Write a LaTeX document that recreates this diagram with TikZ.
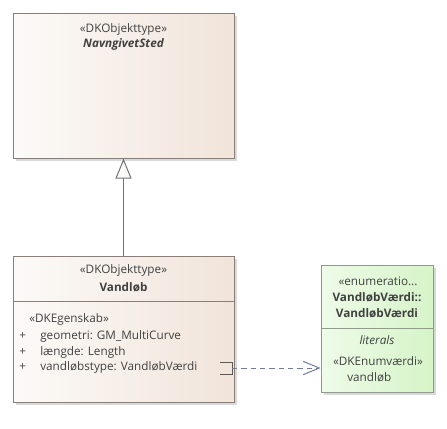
\documentclass[tikz,border=0pt]{standalone}
\usepackage{fontspec}
\setmainfont{Open Sans}
\usepackage{tikz}
\usetikzlibrary{arrows.meta}

\definecolor{boxline}{RGB}{138,126,120}
\definecolor{boxleft}{RGB}{252,250,248}
\definecolor{boxright}{RGB}{241,228,218}
\definecolor{enumline}{RGB}{145,155,140}
\definecolor{enumleft}{RGB}{238,251,232}
\definecolor{enumright}{RGB}{214,244,200}
\definecolor{txtgrey}{RGB}{65,65,65}
\definecolor{deparrow}{RGB}{112,124,156}

\tikzset{
  classbox/.style={draw=boxline, line width=0.75pt, left color=boxleft, right color=boxright, inner sep=0pt},
  enumbox/.style={draw=enumline, line width=0.75pt, left color=enumleft, right color=enumright, inner sep=0pt},
  boxshadow/.style={fill=black!15, draw=none},
  txt/.style={inner sep=0.75pt, font=\fontsize{8.8}{10}\selectfont, text=txtgrey},
}

\begin{document}
\begin{tikzpicture}[x=0.75pt,y=0.75pt,yscale=-1,xscale=1]
\useasboundingbox (0,0) rectangle (447,429);

%Shadows
\fill [boxshadow] (16,16) rectangle (237,161);
\fill [boxshadow] (16,259) rectangle (237,405);
\fill [boxshadow] (324,268) rectangle (436,395);

%Class boxes
\node [classbox, minimum width=165.75pt, minimum height=108.75pt] (navngivet) at (123.5,85.5) {};
\node [classbox, minimum width=165.75pt, minimum height=109.5pt] (vandlob) at (123.5,329) {};
\node [enumbox, minimum width=84pt, minimum height=95.25pt] (vaerdi) at (377,328.5) {};

%Compartment lines
\draw [boxline, line width=0.75pt] (vandlob.west |- 0,301) -- (vandlob.east |- 0,301) ;
\draw [enumline, line width=0.75pt] (vaerdi.west |- 0,328) -- (vaerdi.east |- 0,328) ;

%Generalization
\draw [color=black!55, line width=0.75pt, -{Triangle[open, length=15pt, width=12pt, fill=boxleft]}] (vandlob.north) -- (navngivet.south) ;

%Dependency
\coordinate (dep) at (232,368) ;
\draw [color=black!65, line width=0.75pt] (220,362) -- (dep |- 0,362) -- (dep |- 0,374) -- (220,374) ;
\draw [color=deparrow, line width=0.75pt, dashed, dash pattern=on 4pt off 3pt, -{Straight Barb[length=12pt, width=10pt]}] (dep) -- (vaerdi.west |- dep) ;

% Text Node
\node [txt] (navnstereo) at (123.5,29) {«DKObjekttype»};
% Text Node
\node [txt, font=\fontsize{8.8}{10}\selectfont\bfseries\itshape] (navnname) at (123.5,44) {NavngivetSted};
% Text Node
\node [txt] (vandstereo) at (123.5,270) {«DKObjekttype»};
% Text Node
\node [txt, font=\fontsize{8.8}{10}\selectfont\bfseries] (vandname) at (123.5,287) {Vandløb};
% Text Node
\node [txt, anchor=west] (egenskab) at (28,319) {«DKEgenskab»};
% Text Node
\node [txt, anchor=west] (plusa) at (18,336) {+};
\node [txt, anchor=west] (attra) at (39,336) {geometri: GM\_MultiCurve};
% Text Node
\node [txt, anchor=west] (plusb) at (18,352) {+};
\node [txt, anchor=west] (attrb) at (39,352) {længde: Length};
% Text Node
\node [txt, anchor=west] (plusc) at (18,367) {+};
\node [txt, anchor=west] (attrc) at (39,367) {vandløbstype: VandløbVærdi};
% Text Node
\node [txt] (enumstereo) at (378,281) {«enumeratio...};
% Text Node
\node [txt, font=\fontsize{8.8}{10}\selectfont\bfseries] (enumnamea) at (377,297) {VandløbVærdi::};
% Text Node
\node [txt, font=\fontsize{8.8}{10}\selectfont\bfseries] (enumnameb) at (377,313) {VandløbVærdi};
% Text Node
\node [txt, font=\fontsize{8.8}{10}\selectfont\itshape] (literals) at (377,340) {literals};
% Text Node
\node [txt] (enumvaerdi) at (378,361) {«DKEnumværdi»};
% Text Node
\node [txt, anchor=west] (lit) at (346,377) {vandløb};

\end{tikzpicture}
\end{document}
